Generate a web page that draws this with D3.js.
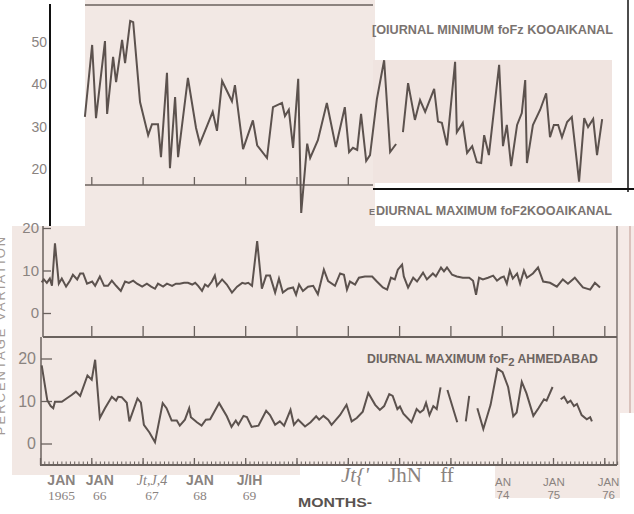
<!DOCTYPE html>
<html>
<head>
<meta charset="utf-8">
<script src="https://cdn.jsdelivr.net/npm/d3@7"></script>
<style>
  body { margin: 0; background: #fff; }
  svg { display: block; }
</style>
</head>
<body>
<script>
// months counted from Jan 1965, value ; null = gap in the record
const topPoints = [
  [10.5,32.3],[12.2,49.3],[13.1,32],[15.2,50.2],[15.7,33],[17.1,46.5],[17.8,40.5],[19.2,50.5],[19.9,45],
  [21.1,55],[21.8,54.7],[23.4,35.8],[25.3,28],[26.2,30.6],[27.6,30.6],[28.3,22.8],[29.7,42.7],[30.4,20.2],
  [31.6,37],[32.3,22.8],[34.6,41.5],[36.5,29.7],[37.4,26],[40.4,33.5],[41.4,29],[42.6,40.8],[44.9,36],
  [45.6,39.8],[47.5,24.7],[49.8,31.5],[50.8,25.6],[53.1,22.6],[54.5,34.6],[56.6,35.6],[57.3,32.5],[58.2,34],
  [59.2,25],[60.4,41.3],[61.1,9.6],[62.5,26],[63.2,22.6],[65.0,26.8],[67.1,35.6],[69.2,25.2],[71.3,34.6],
  [72.3,24],[73.2,25],[74.2,24.5],[75.1,33],[76.3,21.9],[77.2,23.3],[78.8,36.5],[80.5,45.7],[81.9,24],
  [83.3,25.9],[84.1,null],[84.9,28.7],[86.1,40.3],[87.7,31.6],[88.9,36.3],[90.1,33.5],[92.2,38.9],[93.1,31.2],
  [94.0,30.9],[95.2,25.6],[97.1,45.3],[97.5,28.7],[98.9,30.9],[99.9,23.8],[101.1,25.4],[102.2,21.6],[103.2,21.4],
  [103.9,28],[105.0,23.3],[107.4,44.6],[108.3,25.4],[109.2,30.4],[110.2,20.7],[111.6,30.4],[112.7,33.2],
  [113.5,41],[113.9,21.4],[115.3,30.4],[117.0,34],[118.4,37.9],[119.3,27.5],[120.2,30.4],[121.2,30.4],
  [122.1,27.5],[123.3,31.1],[124.4,32.3],[126.1,17],[127.3,32],[128.2,29.9],[129.4,31.8],[130.3,23.3],[131.5,31.8]
];

const midPoints = [
  [0.4,7.2],[0.9,7.9],[1.6,7.1],[2.3,8.1],[2.8,6.4],[3.5,16.4],[4.4,6.9],[5.1,8.1],[6.1,6.2],[7.0,7.6],
  [7.7,9],[8.7,7.9],[9.4,9.3],[10.1,9.3],[11.0,6.9],[12.2,7.4],[12.9,6.4],[14.0,8.6],[15.0,6.4],[15.9,6.4],
  [16.8,7.6],[17.8,6.4],[18.9,5.2],[19.9,7.4],[20.8,7.1],[21.8,7.6],[22.7,6.9],[23.9,6.2],[25.0,6.9],[26.0,6.2],
  [26.9,5.7],[27.6,6.9],[28.8,6.2],[29.7,6.9],[30.9,6.4],[31.8,6.9],[32.7,6.9],[33.7,7.1],[34.6,7.1],[35.6,6.7],
  [36.3,7.1],[37.0,6.4],[37.9,5.2],[38.6,6.7],[39.3,6.2],[40.2,7.4],[40.9,8.8],[41.4,6.4],[42.6,7.9],[43.7,6.7],
  [44.9,4.8],[46.1,6.2],[47.3,7.1],[48.0,6.9],[48.7,7.1],[49.6,6.4],[50.8,16.9],[51.9,5.7],[52.9,8.8],[53.8,8.8],
  [55.0,4.8],[55.9,8.1],[56.8,4.8],[58.0,5.7],[59.2,6],[59.9,4.3],[60.6,6.7],[61.5,5.2],[62.7,6.2],[63.9,6.4],
  [65.0,4.4],[66.4,10.2],[67.4,7.5],[69.0,6.4],[70.2,9.3],[71.1,9],[71.8,5.5],[72.5,7.4],[73.7,6.7],[74.6,8.3],
  [76.0,8.6],[77.7,8.6],[78.8,7.4],[80.2,6],[81.2,5.5],[82.1,8.3],[83.0,7.9],[83.7,10.2],[84.7,11.4],[85.1,8.6],
  [86.1,6],[87.3,8.3],[88.2,7.4],[89.6,9.5],[90.5,7.9],[91.9,9.3],[92.6,8.6],[93.8,10.7],[94.5,9.8],[95.2,10.7],
  [96.4,9],[97.5,8.6],[98.9,8.3],[100.4,8.3],[101.3,7.6],[102.0,4.3],[102.7,8.3],[103.6,7.9],[104.8,8.3],[106.0,8.8],
  [106.9,7.6],[107.8,8.3],[108.5,8.6],[109.2,6.9],[109.9,10],[110.6,8.1],[111.6,9.3],[112.3,6.9],[113.2,10],[113.9,8.3],
  [115.3,9.3],[116.5,10.7],[117.7,7.4],[119.3,7.1],[120.9,6.2],[122.3,7.9],[123.5,6.9],[125.1,8.3],[126.1,7.1],
  [127.0,6],[128.7,5.5],[129.8,7.1],[131.0,6]
];

const lowPoints = [
  [0.4,18.4],[1.7,10.2],[2.5,8.8],[3.1,8.3],[3.5,9.8],[5.1,9.8],[6.2,10.6],[7.4,11.4],[8.4,12.2],[9.4,11.2],
  [11.1,16],[12.1,15],[12.9,19.7],[14.0,6],[15.2,8.3],[16.8,11],[17.8,10.1],[18.3,11],[19.1,10.9],[20.3,9.6],
  [20.9,5.2],[22.8,10.6],[23.6,9.6],[24.3,4.4],[25.6,2.6],[26.9,0.3],[28.7,9.5],[29.6,8.3],[30.8,5.4],[32.0,5.4],
  [32.7,4.2],[33.9,5.6],[34.9,8.3],[35.3,6.2],[36.7,5],[37.8,4.2],[38.8,5.6],[39.8,5.7],[41.9,9.5],[43.7,6.4],
  [44.8,3.9],[45.8,5.4],[46.4,4.4],[47.6,6.5],[48.4,6.2],[49.5,3.9],[51.1,4.2],[52.9,7.7],[53.8,6.7],[55.0,4.4],
  [56.1,5.2],[57.1,4.2],[58.6,7.9],[59.4,4.4],[60.4,5.6],[62.0,4],[63.3,5],[64.6,6.4],[65.3,5.6],[66.3,6.5],
  [67.4,5.6],[68.2,4.4],[70.2,6.7],[71.7,9.1],[72.9,5.2],[74.1,6],[75.5,7.5],[76.8,11.9],[78.4,9.1],[79.5,7.9],
  [80.5,8.8],[81.7,11.6],[82.5,11.2],[83.6,8.1],[84.2,8.7],[85.0,7],[86.9,5],[88.1,8.1],[88.9,7.3],[89.7,7.9],
  [90.3,9.6],[91.1,6.7],[92.0,8.8],[92.8,8.1],[93.7,13.2],[94.5,null],[95.3,12.6],[97.6,5],[98.6,null],
  [99.6,5.2],[100.4,11.2],[101.3,null],[102.3,8.3],[103.7,3.4],[105.4,9.1],[107.0,17.6],[108.2,16.8],[109.5,13.3],
  [110.7,6.4],[111.5,7.3],[112.7,14.5],[113.8,11.8],[115.4,6.5],[116.6,8.3],[117.9,10.4],[118.5,10.1],[119.9,13.3],
  [120.8,null],[121.8,10.4],[122.6,11],[123.4,9.6],[124.1,10.1],[124.9,8.8],[125.6,9.3],[126.7,6.7],[127.9,5.7],
  [128.7,6.2],[129.1,5.2]
];

const yearTicks = d3.range(12, 133, 12);          // JAN 1966 ... JAN 1976
const monthTicks = d3.range(0, 136);
const topYTicks = [20, 30, 40, 50];
const panelYTicks = [0, 10, 20];

const xLabelMonths = [5, 14, 26.2, 37.4, 49, 73.7, 85.4, 95.2, 108.3, 120.2, 133];
const xLabelLine1 = ["JAN", "JAN", "Jt,J,4", "JAN", "J/IH", "Jt{'", "JhN", "ff", "AN", "JAN", "JAN"];
const xLabelLine2 = ["1965", "66", "67", "68", "69", "", "", "", "74", "75", "76"];

const titleTop = "[OIURNAL  MINIMUM  foFz KOOAIKANAL";
const titleMid = "DIURNAL  MAXIMUM foF2KOOAIKANAL";
const titleLow = ["DIURNAL  MAXIMUM foF", "2", " AHMEDABAD"];

const W = 634, H = 514;
const ink = "#5c524e", grey = "#8a837f", axisCol = "#6a625e";
const pink = "#f2e8e4", pink2 = "#f0e4e0";

const svg = d3.select("body").append("svg")
  .attr("width", W)
  .attr("height", H);

const x = d3.scaleLinear().domain([0, 132]).range([40, 604.3]);
const yTop = d3.scaleLinear().domain([20, 50]).range([169, 42]);
const yMid = d3.scaleLinear().domain([0, 20]).range([313, 228]);
const yLow = d3.scaleLinear().domain([0, 20]).range([443.5, 358.5]);

// scanned paper patches
const patches = [
  [85, 0, 290, 226, pink],
  [373, 60, 239, 123, pink2],
  [12, 226, 608, 239, pink],
  [12, 465, 288, 10, pink],
  [495, 465, 125, 33, pink],
  [620, 226, 14, 187, "#f5eae7"]
];
svg.selectAll("rect.patch")
  .data(patches)
  .enter()
  .append("rect")
  .attr("class", "patch")
  .attr("x", d => d[0]).attr("y", d => d[1])
  .attr("width", d => d[2]).attr("height", d => d[3])
  .attr("fill", d => d[4]);

// white label box of the middle panel
svg.append("rect").attr("x", 375).attr("y", 191).attr("width", 250).attr("height", 35).attr("fill", "#fff");

function seg(x1, y1, x2, y2, col, w) {
  svg.append("line")
    .attr("x1", x1).attr("y1", y1).attr("x2", x2).attr("y2", y2)
    .attr("stroke", col).attr("stroke-width", w);
}

// ---- top panel frame
seg(85, 5, 373, 5, axisCol, 1.5);
seg(85, 185, 373, 185, axisCol, 1.5);
svg.append("g")
  .attr("transform", "translate(0,185)")
  .call(d3.axisBottom(x).tickValues(yearTicks.filter(m => x(m) < 373)).tickSize(-8).tickFormat(""))
  .call(g => g.select(".domain").remove())
  .selectAll("line").attr("stroke", axisCol).attr("stroke-width", 1.3);

seg(50, 4, 50, 226, "#111", 2);
seg(628, 0, 628, 192, "#111", 1.5);
seg(373, 189, 634, 189, "#111", 2);

svg.append("g")
  .attr("transform", "translate(48,0)")
  .call(d3.axisLeft(yTop).tickValues(topYTicks).tickSize(0).tickPadding(1))
  .call(g => g.select(".domain").remove())
  .selectAll("text")
  .attr("fill", grey)
  .style("font", "14px 'Liberation Sans', Arial, sans-serif");

// ---- middle + bottom frames
seg(43, 226, 43, 337, axisCol, 1.5);
seg(43, 337, 617, 337, axisCol, 1.8);
seg(617, 226, 617, 465, axisCol, 1.3);
seg(630, 226, 630, 413, "#c9a7a1", 1.2);
seg(41, 337, 41, 465, axisCol, 1.5);
seg(40, 465, 617, 465, axisCol, 1.8);

svg.append("g")
  .attr("transform", "translate(0,337)")
  .call(d3.axisBottom(x).tickValues(yearTicks).tickSize(-11).tickFormat(""))
  .call(g => g.select(".domain").remove())
  .selectAll("line").attr("stroke", axisCol).attr("stroke-width", 1.3);

svg.append("g")
  .attr("transform", "translate(0,465)")
  .call(d3.axisBottom(x).tickValues(monthTicks).tickSize(-3.5).tickFormat(""))
  .call(g => g.select(".domain").remove())
  .selectAll("line").attr("stroke", axisCol).attr("stroke-width", 1);

svg.append("g")
  .attr("transform", "translate(0,465)")
  .call(d3.axisBottom(x).tickValues([0].concat(yearTicks)).tickSize(-7).tickFormat(""))
  .call(g => g.select(".domain").remove())
  .selectAll("line").attr("stroke", axisCol).attr("stroke-width", 1.3);

svg.append("g")
  .attr("transform", "translate(43,0)")
  .call(d3.axisLeft(yMid).tickValues(panelYTicks).tickSize(-8).tickPadding(4))
  .call(g => g.select(".domain").remove())
  .call(g => g.selectAll("line").attr("stroke", axisCol).attr("stroke-width", 1.3))
  .selectAll("text")
  .attr("fill", grey)
  .style("font", "15px 'Liberation Sans', Arial, sans-serif");

svg.append("g")
  .attr("transform", "translate(41,0)")
  .call(d3.axisLeft(yLow).tickValues(panelYTicks).tickSize(-11).tickPadding(5))
  .call(g => g.select(".domain").remove())
  .call(g => g.selectAll("line").attr("stroke", axisCol).attr("stroke-width", 1.3))
  .selectAll("text")
  .attr("fill", grey)
  .style("font", "16px 'Liberation Sans', Arial, sans-serif");

// axis caption, mostly cut off at the left edge of the scan
svg.append("text")
  .attr("transform", "translate(5,335) rotate(-90)")
  .attr("text-anchor", "middle")
  .attr("fill", "#a29a96")
  .style("font", "13px 'Liberation Sans', Arial, sans-serif")
  .attr("letter-spacing", 2)
  .text("PERCENTAGE VARIATION");

svg.append("rect").attr("x", 0).attr("y", 0).attr("width", 49).attr("height", 226).attr("fill", "#fff").lower();

// ---- series
const line = y => d3.line()
  .defined(d => d[1] != null)
  .x(d => x(d[0]))
  .y(d => y(d[1]));

[[topPoints, yTop], [midPoints, yMid], [lowPoints, yLow]].forEach(([pts, y]) => {
  svg.append("path")
    .datum(pts)
    .attr("fill", "none")
    .attr("stroke", ink)
    .attr("stroke-width", 2)
    .attr("stroke-linejoin", "miter")
    .attr("d", line(y));
});

// ---- titles
svg.append("text")
  .attr("x", 372).attr("y", 34)
  .attr("textLength", 241).attr("lengthAdjust", "spacingAndGlyphs")
  .attr("fill", "#7a7370")
  .style("font", "bold 12.5px 'Liberation Sans', Arial, sans-serif")
  .text(titleTop);

svg.append("text")
  .attr("x", 369).attr("y", 215)
  .attr("fill", "#7a7370")
  .style("font", "bold 9px 'Liberation Sans', Arial, sans-serif")
  .text("E");
svg.append("text")
  .attr("x", 376).attr("y", 215)
  .attr("textLength", 236).attr("lengthAdjust", "spacingAndGlyphs")
  .attr("fill", "#7a7370")
  .style("font", "bold 12.5px 'Liberation Sans', Arial, sans-serif")
  .text(titleMid);

const tl = svg.append("text")
  .attr("x", 367).attr("y", 363)
  .attr("textLength", 231).attr("lengthAdjust", "spacingAndGlyphs")
  .attr("fill", "#6c6460")
  .style("font", "12px 'Liberation Sans Narrow', 'Liberation Sans', Arial, sans-serif")
  .style("font-weight", "bold");
tl.append("tspan").text(titleLow[0]);
tl.append("tspan").attr("dy", 3).style("font-size", "11px").text(titleLow[1]);
tl.append("tspan").attr("dy", -3).text(titleLow[2]);

// ---- x labels
const clipR = svg.append("clipPath").attr("id", "clipR");
clipR.append("rect").attr("x", 480).attr("y", 465).attr("width", 140).attr("height", 34);

xLabelLine1.forEach((t, i) => {
  const cx = x(xLabelMonths[i]);
  let f1, y1 = 485, f2 = "13.5px 'Liberation Serif', 'Times New Roman', serif", y2 = 500;
  const g = svg.append("g");
  if (i < 5) {
    f1 = i === 2 ? "italic 14px 'Liberation Serif', serif"
                 : "bold 14px 'Liberation Sans Narrow', 'Liberation Sans', sans-serif";
  } else if (i < 8) {
    f1 = (i === 5 ? "italic " : "") + "21px 'Liberation Serif', 'Times New Roman', serif";
    y1 = 482;
  } else {
    f1 = "11.5px 'Liberation Sans Narrow', 'Liberation Sans', sans-serif";
    f2 = f1; y1 = 486; y2 = 499;
    g.attr("clip-path", "url(#clipR)");
  }
  g.append("text")
    .attr("x", cx).attr("y", y1)
    .attr("text-anchor", "middle")
    .attr("fill", grey)
    .style("font", f1)
    .text(t);
  if (xLabelLine2[i]) {
    g.append("text")
      .attr("x", cx).attr("y", y2)
      .attr("text-anchor", "middle")
      .attr("fill", grey)
      .style("font", f2)
      .text(xLabelLine2[i]);
  }
});

svg.append("text")
  .attr("x", 298).attr("y", 507)
  .attr("textLength", 74).attr("lengthAdjust", "spacingAndGlyphs")
  .attr("fill", "#5a5350")
  .style("font", "bold 12.5px 'Liberation Sans', Arial, sans-serif")
  .text("MONTHS-");
</script>
</body>
</html>
